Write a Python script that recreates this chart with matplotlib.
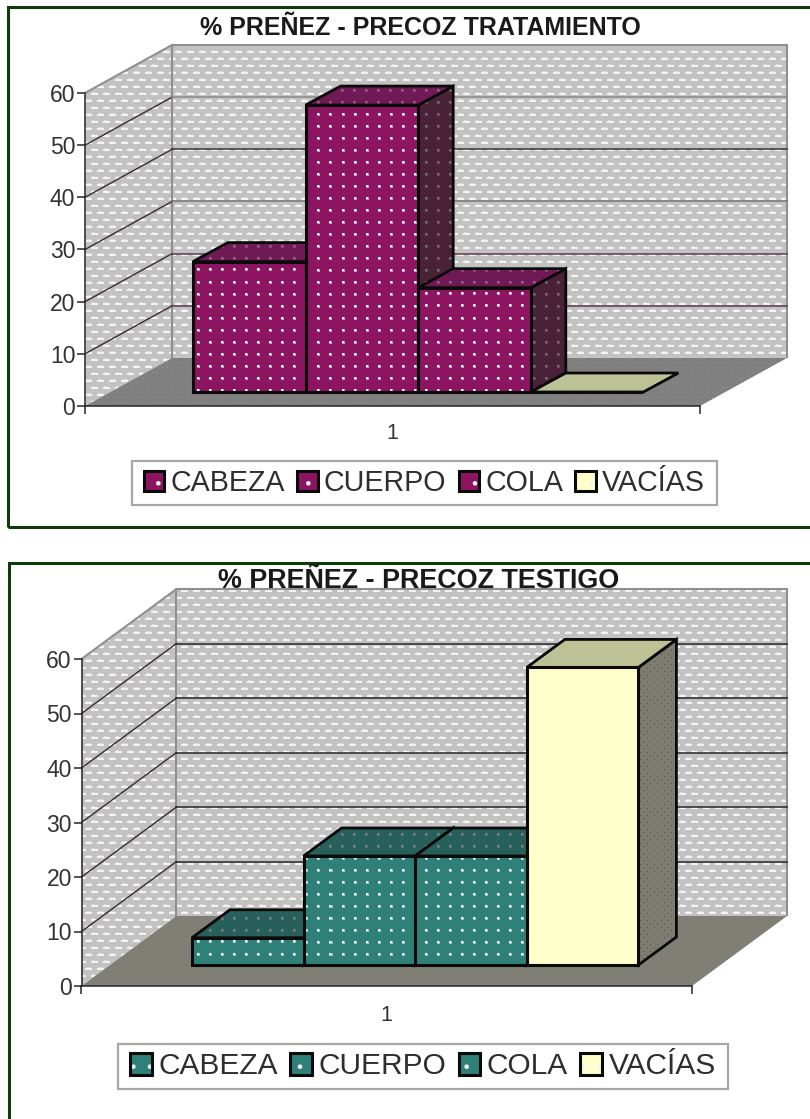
import numpy as np
import matplotlib
matplotlib.use('Agg')
import matplotlib.pyplot as plt
from matplotlib.colors import to_rgb
from matplotlib.legend_handler import HandlerTuple
from matplotlib.patches import Polygon, Patch, Rectangle

plt.rcParams['font.family'] = ['Liberation Sans', 'DejaVu Sans']
plt.rcParams['hatch.linewidth'] = 0.9

W, H = 810, 1119

categorias = ['CABEZA', 'CUERPO', 'COLA', 'VACÍAS']
valores_tratamiento = [25, 55, 20, 0]
valores_testigo = [5, 20, 20, 54.6]
ticks_y = [0, 10, 20, 30, 40, 50, 60]

fig = plt.figure(figsize=(W / 100, H / 100), dpi=100, facecolor='white')


# patron de las paredes: guiones blancos sobre gris
def patron_pared():
    tile = np.full((14, 12), 0.76)
    tile[2:4, 1:8] = 0.95
    tile[1, 2:7] = 0.84
    tile[9:11, 7:12] = 0.95
    tile[9:11, 0:2] = 0.95
    tile[8, 8:11] = 0.84
    return np.tile(tile, (H // 14 + 1, W // 12 + 1))[:H, :W]


# patron de puntos con alpha, paso en pixeles
def patron_puntos(color, paso, alpha=1.0, tresbolillo=False):
    tile = np.zeros((paso, paso))
    c = paso // 2
    if paso >= 10:
        tile[c - 1:c + 2, c - 1:c + 2] = 0.6
        tile[c - 1:c + 1, c - 1:c + 1] = 1.0
    else:
        tile[c, c] = 1.0
    if tresbolillo:
        tile = tile + np.roll(np.roll(tile, paso // 2, axis=0), paso // 2, axis=1)
    a = np.tile(tile, (H // paso + 1, W // paso + 1))[:H, :W] * alpha
    rgba = np.zeros((H, W, 4))
    rgba[..., :3] = to_rgb(color)
    rgba[..., 3] = a
    return rgba


def poner_imagen(ax, datos, clip, z, **kw):
    inv = ax.transData.inverted()
    (x0, y0), (x1, y1) = inv.transform([(0, 0), (W, H)])
    im = ax.imshow(datos, extent=(x0, x1, y0, y1), origin='upper', aspect='auto',
                   interpolation='nearest', zorder=z, **kw)
    im.set_clip_box(fig.bbox)
    im.set_clip_path(clip)


def pared(ax, verts):
    poner_imagen(ax, patron_pared(), Polygon(verts, transform=ax.transData), 1,
                 cmap='gray', vmin=0, vmax=1)


def cara(ax, verts, color, puntos, z, lw=2.0):
    pol = ax.add_patch(Polygon(verts, facecolor=color, lw=0, clip_on=False, zorder=z))
    if puntos is not None:
        poner_imagen(ax, puntos, Polygon(verts, transform=ax.transData), z + 0.01)
    ax.add_patch(Polygon(verts, fill=False, edgecolor='#0a0a0a', lw=lw, clip_on=False, zorder=z + 0.1))
    return pol


def grafico(px, valores, colores, titulo, titulo_xy, titulo_size, suelo_col, suelo_puntos, lineas_col,
            leyenda_px, leyenda_size, pad_uno):
    x_izq, x_der, y_cero, y_60, dx_pared, dy_pared, dx_bar, dy_bar, x_bar0, ancho_bar, y_base = px

    ax = fig.add_axes([x_izq / W, 1 - y_cero / H, (x_der - x_izq) / W, (y_cero - y_60) / H])
    ax.patch.set_visible(False)
    # x en unidades de barra, y en unidades del eje
    xlim = (-0.5 + (x_izq - x_bar0) / ancho_bar, -0.5 + (x_der - x_bar0) / ancho_bar)
    ax.set_xlim(xlim)
    ax.set_ylim(0, 60)
    upy = 60 / (y_cero - y_60)

    DX, DY = dx_pared / ancho_bar, dy_pared * upy
    bx, by = dx_bar / ancho_bar, dy_bar * upy
    base = (y_cero - y_base) * upy
    izq, der = xlim

    # paredes
    pared(ax, [(izq, 0), (izq + DX, DY), (izq + DX, 60 + DY), (izq, 60)])
    pared(ax, [(izq + DX, DY), (der + DX, DY), (der + DX, 60 + DY), (izq + DX, 60 + DY)])
    ax.add_patch(Polygon([(izq, 60), (izq + DX, 60 + DY), (der + DX, 60 + DY), (der + DX, DY)],
                         closed=False, fill=False, edgecolor='#8f8f8f', lw=1.5, clip_on=False, zorder=1.2))
    ax.plot([izq + DX, izq + DX], [DY, 60 + DY], color='#8f8f8f', lw=1.5, clip_on=False, zorder=1.2)

    # lineas de division
    for v, c in zip(ticks_y[1:-1], lineas_col):
        ax.plot([izq, izq + DX], [v, v + DY], color='#3a2a34', lw=1.0, clip_on=False, zorder=1.5)
        ax.plot([izq + DX, der + DX], [v + DY, v + DY], color=c, lw=1.1, clip_on=False, zorder=1.5)

    # suelo
    cara(ax, [(izq, 0), (izq + DX, DY), (der + DX, DY), (der, 0)], suelo_col, suelo_puntos, 1.6, lw=0)

    # barras: primero lados y tapas, de izquierda a derecha
    xs = np.arange(len(valores))
    puntos_lado = patron_puntos('#9a9a9a', 12, 0.6)
    puntos_lado_crema = patron_puntos('#45453e', 7, 0.8, tresbolillo=True)
    puntos_tapa = patron_puntos('#b090a8', 12, 0.6)
    for i, v in enumerate(valores):
        front, tapa, lado = colores[i]
        l, r, t = i - 0.5, i + 0.5, base + v
        z = 3 + i * 0.3
        if v > 0:
            cara(ax, [(r, base), (r + bx, base + by), (r + bx, t + by), (r, t)], lado,
                 puntos_lado if i < 3 else puntos_lado_crema, z)
        cara(ax, [(l, t), (l + bx, t + by), (r + bx, t + by), (r, t)], tapa,
             puntos_tapa if i < 3 else None, z + 0.1)

    # caras frontales con el bar de matplotlib
    fronts = [c[0] for c in colores]
    barras = ax.bar(xs, valores, width=1.0, bottom=base, color=fronts, lw=0, zorder=5, clip_on=False)
    puntos_frente = patron_puntos('#f6f6f6', 12)
    for b, col in zip(barras, fronts):
        if col != crema[0]:
            poner_imagen(ax, puntos_frente, b, 5.01)
    ax.bar(xs, valores, width=1.0, bottom=base, fill=False, edgecolor='#0a0a0a', lw=2.2,
           zorder=5.1, clip_on=False)

    # ejes
    ax.set_xlim(xlim)
    ax.set_ylim(0, 60)
    for s in ['top', 'right']:
        ax.spines[s].set_visible(False)
    for s in ['left', 'bottom']:
        ax.spines[s].set_color('#262626')
        ax.spines[s].set_linewidth(1.1)
        ax.spines[s].set_zorder(2)
    ax.set_yticks(ticks_y)
    ax.set_yticklabels([str(t) for t in ticks_y])
    ax.tick_params(axis='y', length=6, width=1.1, color='#262626', labelsize=16.5, labelcolor='#333333', pad=1)
    ax.set_xticks([izq, der])
    ax.set_xticklabels(['', ''])
    ax.tick_params(axis='x', which='major', length=6, width=1.1, color='#262626')
    ax.set_xticks([(izq + der) / 2], labels=['1'], minor=True)
    ax.tick_params(axis='x', which='minor', length=0, labelsize=15.5, labelcolor='#333333', pad=pad_uno)

    fig.text(titulo_xy[0] / W, 1 - titulo_xy[1] / H, titulo, ha='center', va='center',
             fontsize=titulo_size, fontweight='bold', color='#1a1a1a', zorder=10)

    # leyenda: caja aparte y punto blanco con contorno negro superpuestos
    x0, y0, x1, y1 = leyenda_px
    fig.add_artist(Rectangle((x0 / W, 1 - y1 / H), (x1 - x0) / W, (y1 - y0) / H, facecolor='white',
                             edgecolor='#a8a8a8', lw=1.6, transform=fig.transFigure))
    handles = []
    for front, _, _ in colores:
        handles.append((Patch(facecolor=front, edgecolor='#f2f2f2', hatch='.', lw=0),
                        Patch(fill=False, edgecolor='#0a0a0a', lw=2.2)))
    fig.legend(handles, categorias, loc='center', ncol=4, fontsize=leyenda_size,
               handler_map={tuple: HandlerTuple(ndivide=1, pad=0)},
               bbox_to_anchor=((x0 + x1) / 2 / W, 1 - (y0 + y1) / 2 / H),
               frameon=False, handlelength=0.72, handleheight=0.72, handletextpad=0.22,
               columnspacing=0.42, borderpad=0.1, labelcolor='#2e2e2e')
    return ax


purpura = ('#8c1461', '#6f1a55', '#4a2238')
teal = ('#2e8078', '#27605a', '#1f4f48')
crema = ('#ffffcc', '#bcc296', '#7c7c70')

# marcos verdes
borde = '#0f3a0a'
fig.add_artist(Rectangle((8 / W, 1 - 526.5 / H), 830 / W, (526.5 - 6.5) / H, fill=False,
                         edgecolor=borde, lw=2.2, transform=fig.transFigure))
fig.add_artist(Rectangle((8.5 / W, 1 - 1140 / H), 830 / W, (1140 - 563) / H, fill=False,
                         edgecolor=borde, lw=2.2, transform=fig.transFigure))

# x_izq, x_der, y_cero, y_60, dx_pared, dy_pared, dx_bar, dy_bar, x_bar0, ancho_bar, y_base
geo1 = (85, 700, 406, 93, 87, 48, 35, 19, 193, 112.6, 392)
geo2 = (81.5, 692, 986, 659, 95, 70, 38, 28, 192, 111.6, 965)

grafico(geo1, valores_tratamiento, [purpura, purpura, purpura, crema],
        '% PREÑEZ - PRECOZ TRATAMIENTO', (420, 28), 18, '#808080', patron_puntos('#949494', 5, 0.8),
        ['#5a3a50', '#5a3a50', '#777777', '#333333', '#8a8a8a'],
        (132, 461, 717, 505), 20.6, 12)
grafico(geo2, valores_testigo, [teal, teal, teal, crema],
        '% PREÑEZ - PRECOZ TESTIGO', (419, 581), 19.4, '#7f7f75', None,
        ['#262626'] * 5,
        (118, 1044, 728, 1089), 21.5, 14)

fig.savefig('out.png', dpi=100)
